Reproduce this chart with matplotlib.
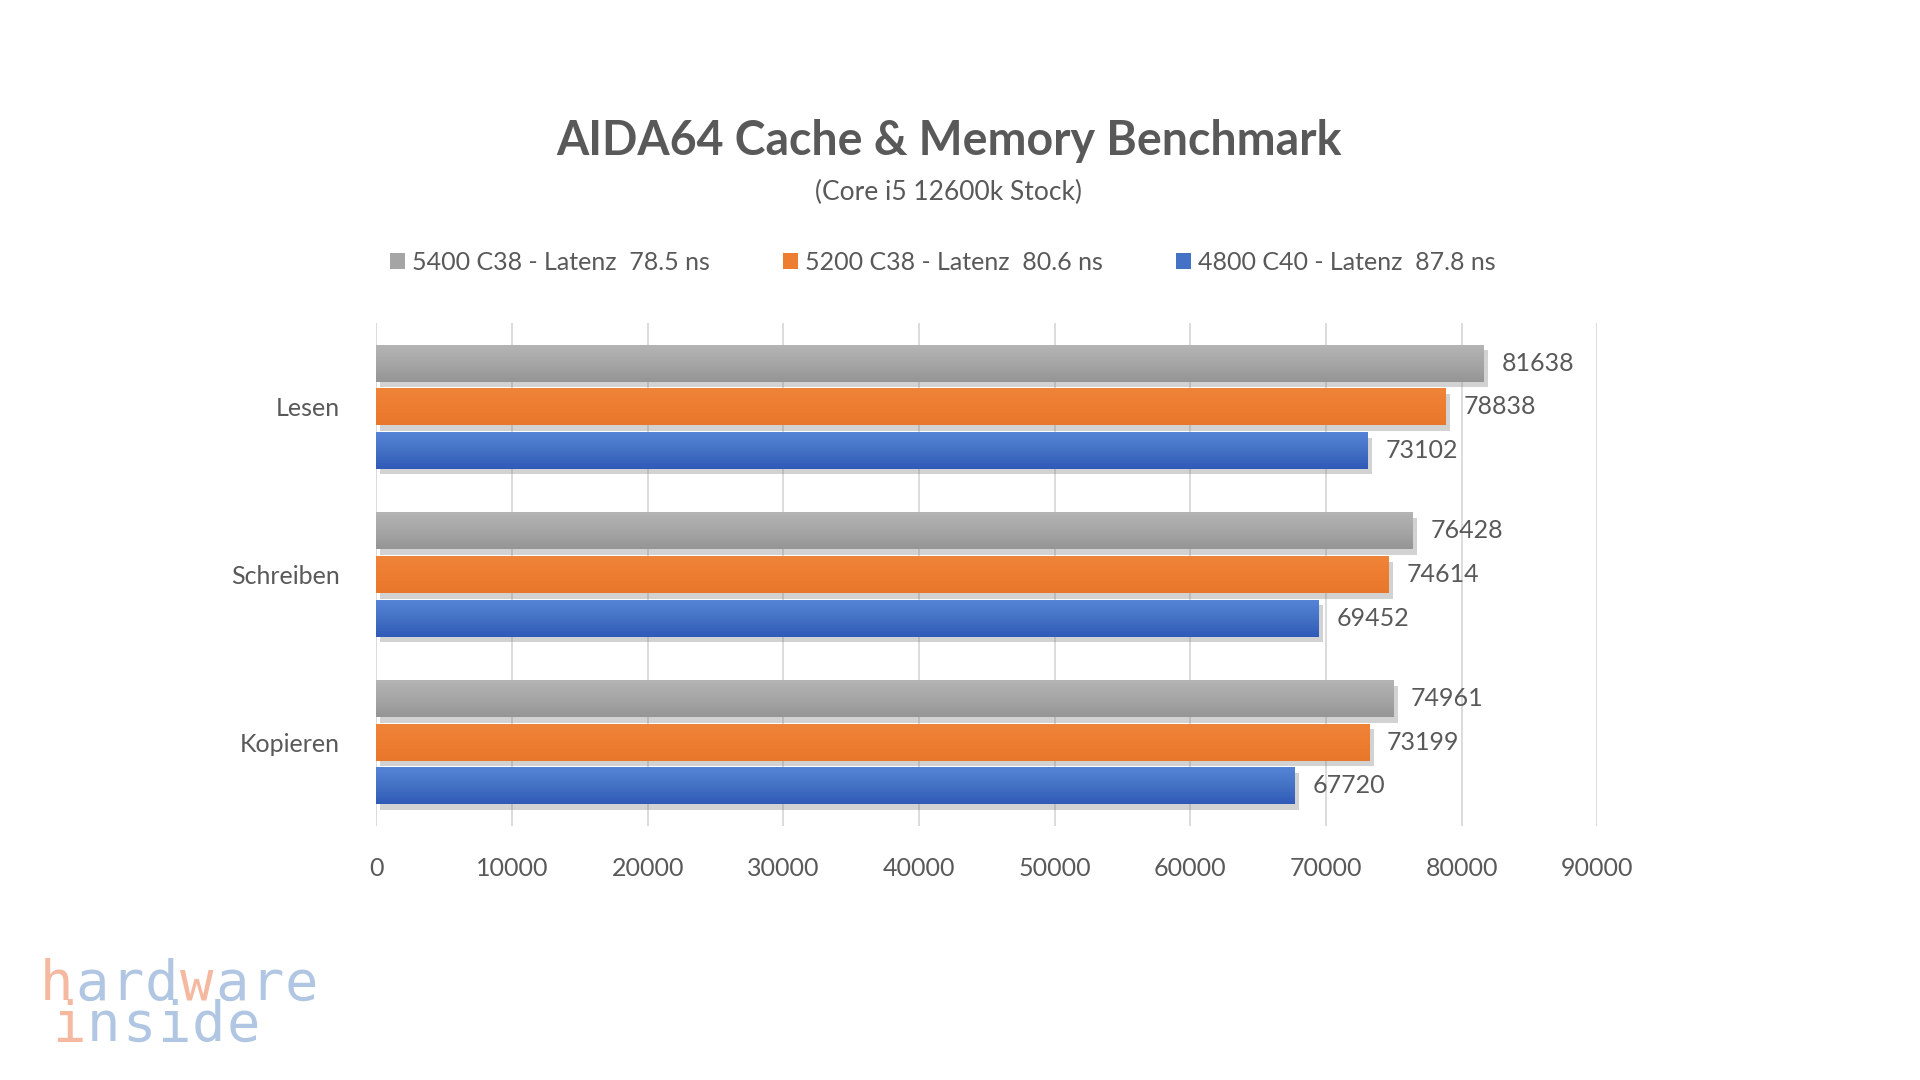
import numpy as np
import matplotlib
matplotlib.use("Agg")
import matplotlib.pyplot as plt
import matplotlib.patheffects as pe
from matplotlib.colors import LinearSegmentedColormap
from matplotlib.patches import Patch

plt.rcParams['font.family'] = ['Lato', 'DejaVu Sans']

categories = ["Lesen", "Schreiben", "Kopieren"]
series_names = ["5400 C38 - Latenz  78.5 ns",
                "5200 C38 - Latenz  80.6 ns",
                "4800 C40 - Latenz  87.8 ns"]
values_5400 = [81638, 76428, 74961]
values_5200 = [78838, 74614, 73199]
values_4800 = [73102, 69452, 67720]
x_ticks = [0, 10000, 20000, 30000, 40000, 50000, 60000, 70000, 80000, 90000]

all_values = [values_5400, values_5200, values_4800]
base_colors = ["#A5A5A5", "#ED7D31", "#4472C4"]
# top -> middle -> bottom shade for the bar gradient
gradients = [["#B4B4B4", "#A6A6A6", "#959595"],
             ["#EF8438", "#ED7D31", "#E8772C"],
             ["#5583D6", "#4472C4", "#2F5AB8"]]
text_color = "#595959"

fig = plt.figure(figsize=(19.2, 10.8), dpi=100)
ax = fig.add_axes([0.1960, 0.2352, 0.6360, 0.4657])

step = 0.26
height = 0.22
y_pos = np.arange(len(categories))

for i, vals in enumerate(all_values):
    offs = (i - 1) * step
    cmap = LinearSegmentedColormap.from_list("g%d" % i, gradients[i])
    bars = ax.barh(y_pos + offs, vals, height=height, color=base_colors[i],
                   zorder=3,
                   path_effects=[pe.SimplePatchShadow(offset=(3, -4), alpha=0.35,
                                                       shadow_rgbFace="#7F7F7F"),
                                 pe.Normal()])
    for b, v in zip(bars, vals):
        y0 = b.get_y()
        y1 = y0 + b.get_height()
        im = ax.imshow(np.linspace(0, 1, 64).reshape(-1, 1), cmap=cmap,
                       extent=[0, v, y1, y0], aspect='auto', zorder=4,
                       interpolation='bicubic')
        im.set_clip_path(b)
        ax.text(v + 1300, y0 + b.get_height() / 2, str(v), va='center',
                ha='left', fontsize=18, color=text_color, zorder=5)

ax.set_xlim(0, 90000)
ax.set_ylim(2.5, -0.5)
ax.set_xticks(x_ticks)
ax.set_xticklabels([str(t) for t in x_ticks])
ax.set_yticks(y_pos)
ax.set_yticklabels(categories)
ax.tick_params(axis='both', length=0, labelsize=18, labelcolor=text_color)
ax.tick_params(axis='x', pad=22)
ax.tick_params(axis='y', pad=26)
ax.grid(axis='x', color="#D9D9D9", linewidth=1.3, zorder=0)
for s in ax.spines.values():
    s.set_visible(False)
ax.set_axisbelow(True)

fig.text(0.494, 0.869, "AIDA64 Cache & Memory Benchmark", ha='center',
         va='center', fontsize=33.5, fontweight='bold', color=text_color)
fig.text(0.494, 0.822, "(Core i5 12600k Stock)", ha='center', va='center',
         fontsize=19, color=text_color)

handles = [Patch(facecolor=c, edgecolor='none') for c in base_colors]
leg = fig.legend(handles, series_names, loc='center', ncol=3,
                 bbox_to_anchor=(0.491, 0.757), frameon=False, fontsize=18,
                 handlelength=0.6, handleheight=0.6, handletextpad=0.3,
                 columnspacing=2.9, labelcolor=text_color)

# hardware inside logo
logo_orange = "#F5B8A0"
logo_blue = "#B1C6E2"
adv = 35
for j, ch in enumerate("hardware"):
    col = logo_orange if j in (0, 4) else logo_blue
    fig.text((40 + j * adv) / 1920, 1 - 1000 / 1080, ch, ha='left',
             va='baseline', fontsize=40, color=col, family='DejaVu Sans Mono')
for j, ch in enumerate("inside"):
    col = logo_orange if j == 0 else logo_blue
    fig.text((52 + j * adv) / 1920, 1 - 1041 / 1080, ch, ha='left',
             va='baseline', fontsize=40, color=col, family='DejaVu Sans Mono')

fig.savefig("out.png", dpi=100, facecolor='white')
